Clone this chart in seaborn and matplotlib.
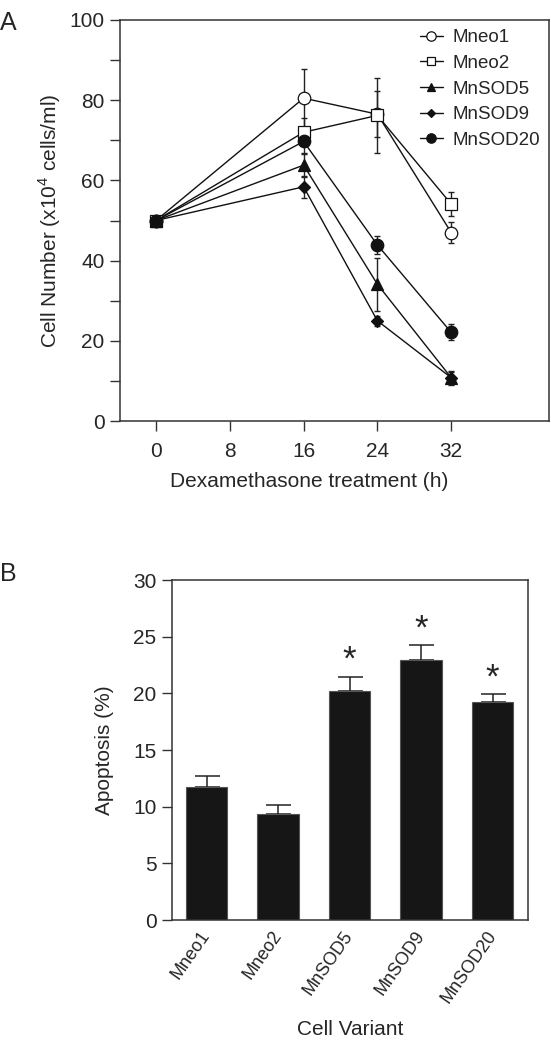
import numpy as np
import pandas as pd
import matplotlib
matplotlib.use("Agg")
import matplotlib.pyplot as plt
import seaborn as sns

# ---------------- data ----------------
hours = [0, 16, 24, 32]
series_names = ["Mneo1", "Mneo2", "MnSOD5", "MnSOD9", "MnSOD20"]
mneo1 = [50.0, 80.5, 76.5, 47.0]
mneo2 = [50.0, 72.0, 76.2, 54.1]
mnsod5 = [50.0, 63.8, 34.1, 10.8]
mnsod9 = [50.0, 58.4, 25.0, 10.8]
mnsod20 = [50.0, 69.7, 43.9, 22.1]
mneo1_err = [0.0, 7.2, 5.8, 2.6]
mneo2_err = [0.0, 3.5, 9.3, 3.0]
mnsod5_err = [0.0, 3.0, 6.6, 1.8]
mnsod9_err = [0.0, 2.8, 1.2, 1.5]
mnsod20_err = [0.0, 3.0, 2.2, 2.0]

variants = ["Mneo1", "Mneo2", "MnSOD5", "MnSOD9", "MnSOD20"]
apoptosis = [11.7, 9.35, 20.2, 22.9, 19.2]
apoptosis_err = [1.0, 0.78, 1.25, 1.35, 0.7]
significant = [False, False, True, True, True]

# ---------------- style ----------------
sns.set_style("ticks")
plt.rcParams["font.family"] = ["Liberation Sans", "DejaVu Sans"]
plt.rcParams["mathtext.fontset"] = "custom"
plt.rcParams["mathtext.rm"] = "Liberation Sans"
FS = 15
edge = "#333333"

fig = plt.figure(figsize=(5.51, 10.5), dpi=100)

# ---------------- panel A ----------------
axA = fig.add_axes([0.2178, 0.599, 0.7786, 0.382])
values = [mneo1, mneo2, mnsod5, mnsod9, mnsod20]
errs = [mneo1_err, mneo2_err, mnsod5_err, mnsod9_err, mnsod20_err]
markers = ["o", "s", "^", "D", "o"]
faces = ["white", "white", "#111111", "#111111", "#111111"]
msizes = [9, 8.5, 8.5, 6, 9]
order = [0, 1, 2, 3, 4]
for i in order:
    axA.errorbar(hours, values[i], yerr=errs[i], fmt="none", ecolor="#222222",
                 elinewidth=1.0, capsize=2.2, capthick=1.0, zorder=2)
for i in order:
    df = pd.DataFrame({"h": hours, "v": values[i]})
    sns.lineplot(data=df, x="h", y="v", ax=axA, color="#111111", linewidth=1.0,
                 marker=markers[i], markersize=msizes[i], markerfacecolor=faces[i],
                 markeredgecolor="#111111", markeredgewidth=0.9, label=series_names[i],
                 zorder=3 + (1 if faces[i] != "white" else 0))

handles, labels = axA.get_legend_handles_labels()
hmap = dict(zip(labels, handles))
leg = axA.legend([hmap[n] for n in series_names], series_names, loc="upper right",
                 bbox_to_anchor=(1.0, 1.0), frameon=False, fontsize=13.5,
                 handlelength=1.2, handletextpad=0.5, labelspacing=0.45,
                 markerscale=0.75, borderaxespad=0.1)

axA.set_xlim(-3.9, 42.6)
axA.set_ylim(0, 100)
axA.set_xticks([0, 8, 16, 24, 32])
axA.set_yticks(np.arange(0, 101, 20))
axA.set_yticks(np.arange(0, 101, 10), minor=True)
axA.tick_params(axis="both", which="both", direction="out", length=7, width=1.0,
                color=edge, labelsize=FS, pad=4)
axA.tick_params(axis="x", pad=8)
axA.set_xlabel("Dexamethasone treatment (h)", fontsize=FS)
axA.xaxis.set_label_coords(0.44, -0.128)
axA.set_ylabel("Cell Number (x10$^4$ cells/ml)", fontsize=FS, labelpad=5)
for s in axA.spines.values():
    s.set_color(edge)
    s.set_linewidth(1.1)
fig.text(0.0, 0.99, "A", fontsize=18, va="top", ha="left")

# ---------------- panel B ----------------
axB = fig.add_axes([0.3116, 0.1238, 0.6472, 0.3238])
dfb = pd.DataFrame({"variant": variants, "apoptosis": apoptosis})
sns.barplot(data=dfb, x="variant", y="apoptosis", ax=axB, color="#161616",
            width=0.58, edgecolor="#555555", linewidth=0.8, errorbar=None,
            saturation=1.0, zorder=2)
xs = np.arange(len(variants))
axB.errorbar(xs, apoptosis, yerr=[np.zeros(len(xs)), apoptosis_err], fmt="none",
             ecolor="#222222", elinewidth=1.1, capsize=9, capthick=1.1, zorder=1)
for x, v, e, sig in zip(xs, apoptosis, apoptosis_err, significant):
    if sig:
        axB.text(x, v + e + 1.45, "*", ha="center", va="center", fontsize=25)

axB.set_xlim(-0.49, 4.5)
axB.set_ylim(0, 30)
axB.set_yticks(np.arange(0, 31, 5))
axB.tick_params(axis="y", direction="out", length=7, width=1.0, color=edge,
                labelsize=FS, pad=4)
axB.tick_params(axis="x", length=0, labelsize=13, pad=9)
plt.setp(axB.get_xticklabels(), rotation=55, ha="right", va="center",
         rotation_mode="anchor")
axB.set_xlabel("Cell Variant", fontsize=FS, labelpad=10)
axB.set_ylabel("Apoptosis (%)", fontsize=FS, labelpad=14)
for s in axB.spines.values():
    s.set_color(edge)
    s.set_linewidth(1.1)
fig.text(0.0, 0.465, "B", fontsize=18, va="top", ha="left")

fig.savefig("out.png", dpi=100)
